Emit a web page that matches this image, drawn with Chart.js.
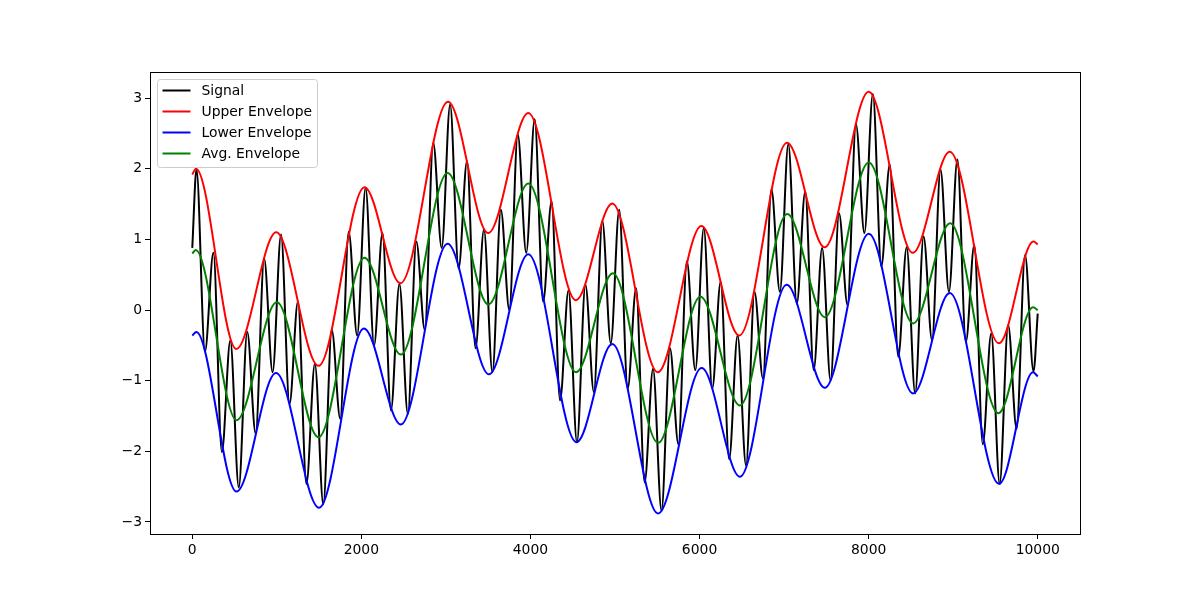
<!DOCTYPE html>
<html>
<head>
<meta charset="utf-8">
<title>Signal envelopes</title>
<script src="https://cdn.jsdelivr.net/npm/chart.js@4.4.0/dist/chart.umd.min.js"></script>
<style>
    html, body { margin: 0; padding: 0; background: #fff; }
    canvas { display: block; }
</style>
</head>
<body>
<canvas id="chart" width="1200" height="600"></canvas>
<script>
let signalT = [
    0, 50, 150, 250, 350, 450, 550, 650, 750, 850, 950,
    1050, 1150, 1250, 1350, 1450, 1550, 1650, 1750, 1850, 1950,
    2050, 2150, 2250, 2350, 2450, 2550, 2650, 2750, 2850, 2950,
    3050, 3150, 3250, 3350, 3450, 3550, 3650, 3750, 3850, 3950,
    4050, 4150, 4250, 4350, 4450, 4550, 4650, 4750, 4850, 4950,
    5050, 5150, 5250, 5350, 5450, 5550, 5650, 5750, 5850, 5950,
    6050, 6150, 6250, 6350, 6450, 6550, 6650, 6750, 6850, 6950,
    7050, 7150, 7250, 7350, 7450, 7550, 7650, 7750, 7850, 7950,
    8050, 8150, 8250, 8350, 8450, 8550, 8650, 8750, 8850, 8950,
    9050, 9150, 9250, 9350, 9450, 9550, 9650, 9750, 9850, 9950, 10000
];
let signalV = [
    0.88, 1.99, -0.59, 0.81, -2.01, -0.43, -2.51, -0.31, -1.75, 0.73, -0.88,
    1.07, -1.33, 0.12, -2.46, -0.76, -2.75, -0.28, -1.54, 1.11, -0.36,
    1.73, -0.50, 1.09, -1.42, 0.37, -1.47, 0.97, -0.28, 2.37, 0.88,
    2.91, 0.59, 2.11, -0.54, 1.14, -0.88, 1.42, 0.00, 2.49, 0.81,
    2.70, 0.12, 1.54, -1.28, 0.28, -1.87, 0.36, -1.16, 1.26, -0.47,
    1.42, -1.11, 0.31, -2.44, -0.83, -2.84, -0.54, -1.90, 0.69, -0.85,
    1.16, -1.11, 0.40, -2.11, -0.36, -2.20, 0.26, -0.97, 1.71, 0.26,
    2.35, 0.09, 1.68, -0.85, 0.88, -1.00, 1.37, 0.07, 2.63, 1.09,
    3.06, 0.62, 2.06, -0.66, 0.89, -1.18, 1.04, -0.43, 1.99, 0.26,
    2.13, -0.45, 0.92, -1.90, -0.33, -2.46, -0.21, -1.68, 0.78, -0.87, -0.05
];

// envelopes: turning points
let upperT = [0, 44, 520, 993, 1493, 2037, 2462, 3025, 3500, 3975, 4537, 4968, 5506, 6022, 6470, 7035, 7480, 8001, 8522, 8960, 9541, 9950, 10000];
let upperV = [1.92, 2.00, -0.55, 1.10, -0.79, 1.74, 0.38, 2.95, 1.09, 2.79, 0.14, 1.51, -0.88, 1.19, -0.36, 2.37, 0.89, 3.09, 0.81, 2.24, -0.47, 0.97, 0.93];

let lowerT = [0, 48, 524, 990, 1500, 2030, 2467, 3020, 3510, 3975, 4545, 4968, 5510, 6025, 6478, 7030, 7482, 8002, 8526, 8960, 9543, 9945, 10000];
let lowerV = [-0.36, -0.31, -2.57, -0.89, -2.80, -0.26, -1.62, 0.94, -0.91, 0.79, -1.87, -0.48, -2.88, -0.82, -2.36, 0.36, -1.10, 1.08, -1.18, 0.24, -2.46, -0.88, -0.94];

let avgT = [0, 40, 524, 1000, 1493, 2037, 2467, 3020, 3503, 3975, 4539, 4975, 5510, 6010, 6478, 7037, 7482, 8002, 8526, 8965, 9535, 9945, 10000];
let avgV = [0.80, 0.85, -1.56, 0.11, -1.80, 0.74, -0.63, 1.94, 0.08, 1.79, -0.88, 0.52, -1.88, 0.19, -1.35, 1.36, -0.10, 2.09, -0.19, 1.23, -1.46, 0.04, 0.00];

let xTicks = [0, 2000, 4000, 6000, 8000, 10000];
let yTicks = [-3, -2, -1, 0, 1, 2, 3];

let seriesNames = ['Signal', 'Upper Envelope', 'Lower Envelope', 'Avg. Envelope'];
let seriesColors = ['#000000', '#ff0000', '#0000ff', '#008000'];

function pts(ts, vs) {
    return ts.map((t, i) => ({ x: t, y: vs[i] }));
}

function fmt(v) {
    return String(v).replace('-', '\u2212');
}

// matplotlib-like frame + legend inside the axes
let framePlugin = {
    id: 'frame',
    afterDraw(chart) {
        let ctx = chart.ctx;
        let a = chart.chartArea;
        ctx.save();
        ctx.strokeStyle = '#000';
        ctx.lineWidth = 1;
        ctx.strokeRect(Math.round(a.left) + 0.5, Math.round(a.top) + 0.5,
            Math.round(a.right - a.left), Math.round(a.bottom - a.top));

        // legend box
        let bx = a.left + 7.5, by = a.top + 7.5, bw = 160, bh = 88;
        ctx.beginPath();
        ctx.roundRect(bx, by, bw, bh, 3);
        ctx.fillStyle = 'rgba(255,255,255,0.8)';
        ctx.fill();
        ctx.strokeStyle = '#cccccc';
        ctx.stroke();

        ctx.font = '13.9px "DejaVu Sans"';
        ctx.textBaseline = 'middle';
        ctx.textAlign = 'left';
        seriesNames.forEach((name, i) => {
            let y = by + 11 + i * 21;
            ctx.beginPath();
            ctx.moveTo(bx + 5, y);
            ctx.lineTo(bx + 33, y);
            ctx.strokeStyle = seriesColors[i];
            ctx.lineWidth = 2;
            ctx.stroke();
            ctx.fillStyle = '#000';
            ctx.fillText(name, bx + 44, y + 1);
        });
        ctx.restore();
    }
};

let lineStyle = {
    borderWidth: 2,
    pointRadius: 0,
    fill: false,
    cubicInterpolationMode: 'monotone'
};

let chart = new Chart(document.getElementById('chart'), {
    type: 'line',
    data: {
        datasets: [
            { ...lineStyle, label: seriesNames[0], data: pts(signalT, signalV), borderColor: seriesColors[0], order: 4 },
            { ...lineStyle, label: seriesNames[1], data: pts(upperT, upperV), borderColor: seriesColors[1], order: 3 },
            { ...lineStyle, label: seriesNames[2], data: pts(lowerT, lowerV), borderColor: seriesColors[2], order: 2 },
            { ...lineStyle, label: seriesNames[3], data: pts(avgT, avgV), borderColor: seriesColors[3], order: 1 }
        ]
    },
    options: {
        responsive: false,
        animation: false,
        devicePixelRatio: 1,
        layout: { padding: { top: 72, right: 120, left: 0, bottom: 0 } },
        plugins: {
            legend: { display: false },
            tooltip: { enabled: false }
        },
        font: { family: 'DejaVu Sans' },
        scales: {
            x: {
                type: 'linear',
                min: -500,
                max: 10500,
                afterBuildTicks: (scale) => { scale.ticks = xTicks.map(v => ({ value: v })); },
                afterFit: (scale) => { scale.height = 66; },
                border: { display: false },
                grid: { drawOnChartArea: false, drawTicks: true, tickLength: 5, color: '#000' },
                ticks: {
                    color: '#000',
                    padding: 3,
                    maxRotation: 0,
                    autoSkip: false,
                    font: { family: 'DejaVu Sans', size: 13.9 },
                    callback: (v) => fmt(v)
                }
            },
            y: {
                type: 'linear',
                min: -3.17,
                max: 3.37,
                afterBuildTicks: (scale) => { scale.ticks = yTicks.map(v => ({ value: v })); },
                afterFit: (scale) => { scale.width = 150; },
                border: { display: false },
                grid: { drawOnChartArea: false, drawTicks: true, tickLength: 5, color: '#000' },
                ticks: {
                    color: '#000',
                    padding: 3,
                    autoSkip: false,
                    font: { family: 'DejaVu Sans', size: 13.9 },
                    callback: (v) => fmt(v)
                }
            }
        }
    },
    plugins: [framePlugin]
});
</script>
</body>
</html>
